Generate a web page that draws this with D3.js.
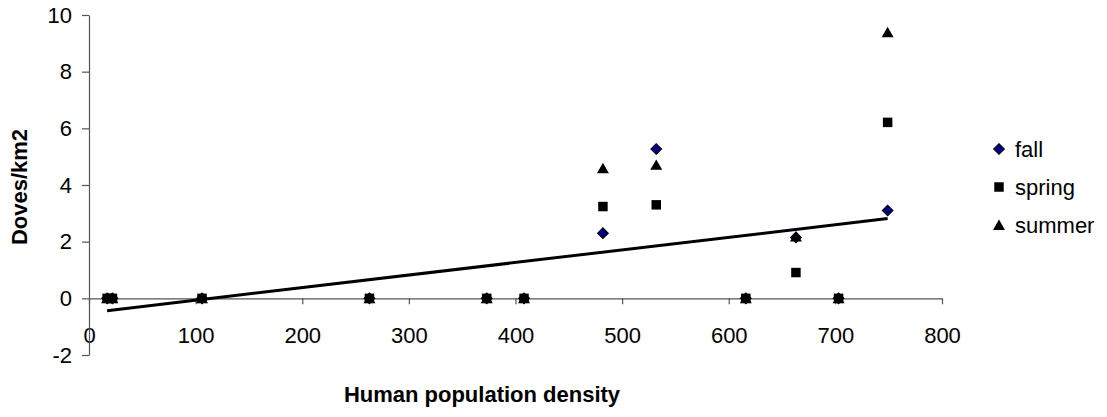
<!DOCTYPE html>
<html>
<head>
<meta charset="utf-8">
<script src="https://cdn.jsdelivr.net/npm/d3@7"></script>
<style>
  body { margin: 0; background: #fff; }
  text { font-family: "Liberation Sans", Arial, sans-serif; fill: #000; }
</style>
</head>
<body>
<div id="chart"></div>
<script>
// Human population density on x, doves per km2 per season
const density = [17, 22, 106, 263, 373, 408, 482, 532, 616, 663, 703, 749];
const fall = [0, 0, 0, 0, 0, 0, 2.3, 5.27, 0, 2.15, 0, 3.1];
const spring = [0, 0, 0, 0, 0, 0, 3.24, 3.3, 0, 0.91, 0, 6.21];
const summer = [0, 0, 0, 0, 0, 0, 4.59, 4.71, 0, 2.18, 0, 9.39];
const seriesNames = ["fall", "spring", "summer"];
const xTicks = [0, 100, 200, 300, 400, 500, 600, 700, 800];
const yTicks = [-2, 0, 2, 4, 6, 8, 10];

const width = 1107,
  height = 417;

let svg = d3
  .select("#chart")
  .append("svg")
  .attr("width", width)
  .attr("height", height);

let x = d3.scaleLinear().domain([0, 800]).range([89, 942]);
let y = d3.scaleLinear().domain([-2, 10]).range([355, 15]);

const fontSize = 22;
// plain hyphen for negatives, like the original
const fmt = (d) => String(d);

// x axis sits on y = 0
const xAxis = svg
  .append("g")
  .attr("transform", "translate(0," + y(0) + ")")
  .call(
    d3.axisBottom(x).tickValues(xTicks).tickFormat(fmt)
      .tickSize(6).tickPadding(23).tickSizeOuter(0)
  );

const yAxis = svg
  .append("g")
  .attr("transform", "translate(" + x(0) + ",0)")
  .call(
    d3.axisLeft(y).tickValues(yTicks).tickFormat(fmt)
      .tickSize(7).tickPadding(10).tickSizeOuter(0)
  );

[xAxis, yAxis].forEach((ax) => {
  ax.select(".domain").attr("stroke", "#555").attr("stroke-width", 1.2);
  ax.selectAll(".tick line").attr("stroke", "#555").attr("stroke-width", 1.2);
  ax.selectAll(".tick text")
    .attr("font-size", fontSize)
    .attr("font-family", '"Liberation Sans", Arial, sans-serif')
    .attr("fill", "#000");
});

// markers
const symbols = {
  fall: d3.symbol().type(d3.symbolSquare).size(58),
  spring: d3.symbol().type(d3.symbolSquare).size(90),
  summer: d3.symbol().type(d3.symbolTriangle).size(62),
};
const fills = { fall: "#000080", spring: "#000", summer: "#000" };
const rot = { fall: 45, spring: 0, summer: 0 };

const seriesData = { fall: fall, spring: spring, summer: summer };

seriesNames.forEach((name) => {
  const pts = density.map((d, i) => ({ x: d, y: seriesData[name][i] }));
  svg
    .append("g")
    .selectAll("path")
    .data(pts)
    .enter()
    .append("path")
    .attr("d", symbols[name])
    .attr("fill", fills[name])
    .attr("stroke", name == "fall" ? "#000" : "none")
    .attr("stroke-width", 1)
    .attr(
      "transform",
      (d) => `translate(${x(d.x)},${y(d.y) + (name == "summer" ? 1.5 : 0)}) rotate(${rot[name]})`
    );
});

// linear trend of the season mean
const meanY = density.map((d, i) => (fall[i] + spring[i] + summer[i]) / 3);
const mx = d3.mean(density),
  my = d3.mean(meanY);
let sxy = 0,
  sxx = 0;
density.forEach((d, i) => {
  sxy += (d - mx) * (meanY[i] - my);
  sxx += (d - mx) * (d - mx);
});
const slope = sxy / sxx,
  intercept = my - slope * mx;
const xEnds = d3.extent(density);

svg
  .append("line")
  .attr("x1", x(xEnds[0]))
  .attr("y1", y(intercept + slope * xEnds[0]))
  .attr("x2", x(xEnds[1]))
  .attr("y2", y(intercept + slope * xEnds[1]))
  .attr("stroke", "#000")
  .attr("stroke-width", 3);

// axis titles
svg
  .append("text")
  .attr("x", 482)
  .attr("y", 402)
  .attr("text-anchor", "middle")
  .attr("font-weight", "bold")
  .attr("font-size", fontSize)
  .text("Human population density");

svg
  .append("text")
  .attr("transform", "translate(27,187) rotate(-90)")
  .attr("text-anchor", "middle")
  .attr("font-weight", "bold")
  .attr("font-size", fontSize)
  .text("Doves/km2");

// legend
const legend = svg.append("g").attr("transform", "translate(999,149)");
const legendItem = legend
  .selectAll(".legend-item")
  .data(seriesNames)
  .enter()
  .append("g")
  .attr("class", "legend-item")
  .attr("transform", (d, i) => `translate(0,${i * 38})`);

legendItem
  .append("path")
  .attr("d", (d) => symbols[d]())
  .attr("fill", (d) => fills[d])
  .attr("stroke", (d) => (d == "fall" ? "#000" : "none"))
  .attr("transform", (d) => `translate(0,${d == "summer" ? 1.5 : 0}) rotate(${rot[d]})`);

legendItem
  .append("text")
  .attr("x", 16)
  .attr("y", 7.5)
  .attr("font-size", fontSize)
  .text((d) => d);
</script>
</body>
</html>
